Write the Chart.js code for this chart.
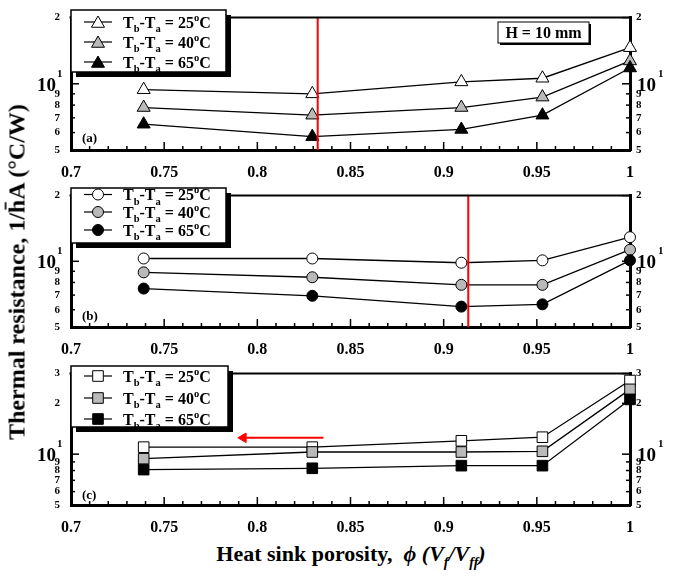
<!DOCTYPE html>
<html>
<head>
<meta charset="utf-8">
<script src="https://cdn.jsdelivr.net/npm/chart.js@4.4.1/dist/chart.umd.min.js"></script>
<style>
  body { margin: 0; background: #fff; }
  #wrap { position: relative; width: 673px; height: 577px; font-family: "Liberation Serif", "Times New Roman", serif; color: #000; }
  canvas { position: absolute; left: 0; }
  #ytitle { position: absolute; left: 17px; top: 272px; transform: translate(-50%, -50%) rotate(-90deg); white-space: nowrap; font-weight: bold; font-size: 24px; }
  #xtitle { position: absolute; left: 351px; top: 556px; transform: translate(-50%, -50%); white-space: nowrap; font-weight: bold; font-size: 22px; }
  #xtitle i { font-weight: bold; }
</style>
</head>
<body>
<div id="wrap">
  <canvas id="panelA" width="673" height="178" style="top:0"></canvas>
  <canvas id="panelB" width="673" height="178" style="top:178px"></canvas>
  <canvas id="panelC" width="673" height="184" style="top:356px"></canvas>
  <div id="ytitle">Thermal resistance, 1/h&#772;A (&deg;C/W)</div>
  <div id="xtitle">Heat sink porosity, &nbsp;<i>&#981;</i> <i>(V<sub style="font-size:14px">f</sub>/V<sub style="font-size:14px">ff</sub>)</i></div>
</div>
<script>
// data
const porosity = [0.739, 0.8295, 0.9095, 0.953, 1.0]
const tempDiffs = ['25', '40', '65']

// (a) triangles
const resA25 = [9.4, 9.0, 10.2, 10.6, 14.6]
const resA40 = [7.8, 7.2, 7.8, 8.7, 12.7]
const resA65 = [6.55, 5.75, 6.2, 7.2, 11.8]
// (b) circles
const resB25 = [10.3, 10.3, 9.85, 10.1, 12.9]
const resB40 = [8.9, 8.45, 7.8, 7.8, 11.3]
const resB65 = [7.5, 6.95, 6.2, 6.35, 10.1]
// (c) squares
const resC25 = [11.0, 11.0, 12.0, 12.6, 27.3]
const resC40 = [9.4, 10.3, 10.3, 10.4, 24.2]
const resC65 = [8.1, 8.25, 8.55, 8.55, 21.1]

const yTicksAB = [5, 6, 7, 8, 9, 10, 20]
const yTicksC = [5, 6, 7, 8, 9, 10, 20, 30]
const redLineA = 0.8324
const redLineB = 0.9132
const arrowX = [0.8355, 0.7925]
const arrowY = 12.5

const FONT = '"Liberation Serif", "Times New Roman", serif'
const fills = ['#ffffff', '#b9b9b9', '#000000']

function bold(size, italic) {
  return (italic ? 'italic ' : '') + 'bold ' + size + 'px ' + FONT
}

function richText(ctx, x, y, parts, size) {
  let cx = x
  parts.forEach(([t, mode]) => {
    const s = mode ? size * 0.66 : size
    const dy = mode === 'sub' ? size * 0.3 : mode === 'sup' ? -size * 0.42 : 0
    ctx.font = bold(s)
    ctx.fillText(t, cx, y + dy)
    cx += ctx.measureText(t).width
  })
}

function marker(ctx, style, x, y, fill) {
  ctx.beginPath()
  if (style === 'triangle') {
    const r = 7.5
    ctx.moveTo(x, y - r)
    ctx.lineTo(x + 0.866 * r, y + 0.5 * r)
    ctx.lineTo(x - 0.866 * r, y + 0.5 * r)
    ctx.closePath()
  } else if (style === 'circle') {
    ctx.arc(x, y, 5.5, 0, Math.PI * 2)
  } else {
    ctx.rect(x - 5.3, y - 5.3, 10.6, 10.6)
  }
  ctx.fillStyle = fill
  ctx.fill()
  ctx.lineWidth = 1
  ctx.strokeStyle = '#000'
  ctx.stroke()
}

function line(ctx, x1, y1, x2, y2) {
  ctx.beginPath()
  ctx.moveTo(x1, y1)
  ctx.lineTo(x2, y2)
  ctx.stroke()
}

const decor = {
  id: 'decor',
  afterDraw(chart, args, o) {
    const { ctx, chartArea: a } = chart
    const xs = chart.scales.x
    const ys = chart.scales.y
    ctx.save()
    ctx.strokeStyle = '#000'
    ctx.lineWidth = 2
    line(ctx, a.left - 1.5, a.top, a.right + 1.5, a.top)

    // inward ticks
    ctx.lineWidth = 1.5
    for (let i = 0; i <= 30; i++) {
      const px = xs.getPixelForValue(0.7 + i * 0.01)
      line(ctx, px, a.bottom, px, a.bottom - (i % 5 === 0 ? 8 : 4))
    }
    o.yTicks.forEach((v) => {
      const py = ys.getPixelForValue(v)
      const len = v >= 10 ? 8 : 4
      line(ctx, a.left, py, a.left + len, py)
      line(ctx, a.right, py, a.right - len, py)
    })

    // 10^1 labels
    const p10 = ys.getPixelForValue(10)
    ctx.fillStyle = '#000'
    ctx.textBaseline = 'alphabetic'
    ctx.font = bold(19)
    ctx.textAlign = 'right'
    ctx.fillText('10', 56, p10 + 7)
    ctx.textAlign = 'left'
    ctx.fillText('10', 637, p10 + 7)
    ctx.font = bold(11)
    ctx.fillText('1', 57, p10 - 7)
    ctx.fillText('1', 658, p10 - 7)

    // legend box with shadow
    const [bx0, by0, bx1, by1] = o.box
    ctx.fillStyle = '#000'
    ctx.fillRect(bx0 + 5, by0 + 5, bx1 - bx0, by1 - by0)
    ctx.fillStyle = '#fff'
    ctx.fillRect(bx0, by0, bx1 - bx0, by1 - by0)
    ctx.lineWidth = 1.5
    ctx.strokeRect(bx0, by0, bx1 - bx0, by1 - by0)
    o.rows.forEach((ry, i) => {
      ctx.strokeStyle = '#000'
      ctx.lineWidth = 1.2
      line(ctx, 84, ry, 112, ry)
      marker(ctx, o.style, 98, ry + (o.style === 'triangle' ? 1.5 : 0), fills[i])
      ctx.fillStyle = '#000'
      ctx.textAlign = 'left'
      richText(ctx, 123, ry + 5.5, [
        ['T', ''], ['b', 'sub'], ['-T', ''], ['a', 'sub'],
        [' = ' + tempDiffs[i], ''], ['o', 'sup'], ['C', ''],
      ], 16)
    })

    // panel letter
    ctx.fillStyle = '#000'
    ctx.font = bold(13)
    ctx.textAlign = 'left'
    ctx.fillText(o.letter, 82, o.letterY)

    if (o.note) {
      ctx.fillStyle = '#000'
      ctx.fillRect(500, 24, 91, 21)
      ctx.fillStyle = '#fff'
      ctx.fillRect(498, 22, 91, 21)
      ctx.lineWidth = 1
      ctx.strokeRect(498, 22, 91, 21)
      ctx.fillStyle = '#000'
      ctx.font = bold(16)
      ctx.textAlign = 'center'
      ctx.fillText(o.note, 543.5, 38)
    }
    ctx.restore()
  },
}

function tickFont() {
  return { family: FONT, size: 11, weight: 'bold' }
}

function yLabel(v) {
  if (v === 10) return ''
  return v < 10 ? String(v) : String(v / 10)
}

function buildPanel(id, series, style, radius, yMax, yTicks, xHeight, extra, deco) {
  const datasets = [extra]
  series.forEach((vals, i) => {
    datasets.push({
      data: porosity.map((p, j) => ({ x: p, y: vals[j] })),
      borderColor: '#000',
      borderWidth: 1.3,
      pointStyle: style,
      pointRadius: radius,
      pointBackgroundColor: fills[i],
      pointBorderColor: '#000',
      pointBorderWidth: 1,
      order: 3 - i,
      clip: false,
    })
  })

  const yAxis = (pos, width, pad) => ({
    type: 'logarithmic',
    position: pos,
    min: 5,
    max: yMax,
    afterFit: (s) => {
      s.width = width
    },
    afterBuildTicks: (s) => {
      s.ticks = yTicks.map((v) => ({ value: v }))
    },
    grid: { display: false, drawTicks: false },
    border: { display: true, width: 3, color: '#000' },
    ticks: {
      autoSkip: false,
      padding: pad,
      color: '#000',
      font: tickFont(),
      callback: (v) => yLabel(v),
    },
  })

  return new Chart(document.getElementById(id), {
    type: 'line',
    data: { datasets },
    options: {
      responsive: false,
      animation: false,
      events: [],
      layout: { padding: { top: 10, left: 0, right: 0, bottom: 0 } },
      scales: {
        x: {
          type: 'linear',
          position: 'bottom',
          min: 0.7,
          max: 1,
          afterFit: (s) => {
            s.height = xHeight
          },
          grid: { display: false, drawTicks: false },
          border: { display: true, width: 3, color: '#000' },
          ticks: {
            stepSize: 0.05,
            autoSkip: false,
            maxRotation: 0,
            padding: 13,
            color: '#000',
            font: { family: FONT, size: 16, weight: 'bold' },
            callback: (v) => String(+v.toFixed(2)),
          },
        },
        y: yAxis('left', 71, 11),
        y2: yAxis('right', 43, 6),
      },
      plugins: {
        legend: { display: false },
        tooltip: { enabled: false },
        decor: deco,
      },
    },
    plugins: [decor],
  })
}

const redVertical = (xv, yMax) => ({
  data: [{ x: xv, y: 5 }, { x: xv, y: yMax }],
  borderColor: '#ff0000',
  borderWidth: 2,
  pointRadius: 0,
  order: 0,
})

buildPanel('panelA', [resA25, resA40, resA65], 'triangle', 7.5, 20, yTicksAB, 28,
  redVertical(redLineA, 20),
  { yTicks: yTicksAB, box: [71, 10, 226, 72], rows: [22, 42, 62], style: 'triangle', letter: '(a)', letterY: 142, note: 'H = 10 mm' })

buildPanel('panelB', [resB25, resB40, resB65], 'circle', 5.5, 20, yTicksAB, 29,
  redVertical(redLineB, 20),
  { yTicks: yTicksAB, box: [71, 10, 226, 65], rows: [16.5, 34, 52], style: 'circle', letter: '(b)', letterY: 142 })

buildPanel('panelC', [resC25, resC40, resC65], 'rect', 7.5, 30, yTicksC, 35,
  {
    data: [{ x: arrowX[0], y: arrowY }, { x: arrowX[1], y: arrowY }],
    borderColor: '#ff0000',
    borderWidth: 2,
    pointStyle: 'triangle',
    pointRotation: -90,
    pointRadius: [0, 5.5],
    pointBackgroundColor: '#ff0000',
    pointBorderColor: '#ff0000',
    pointBorderWidth: 1,
    order: 0,
  },
  { yTicks: yTicksC, box: [71, 10, 228, 71], rows: [20, 42, 63], style: 'rect', letter: '(c)', letterY: 143 })
</script>
</body>
</html>
